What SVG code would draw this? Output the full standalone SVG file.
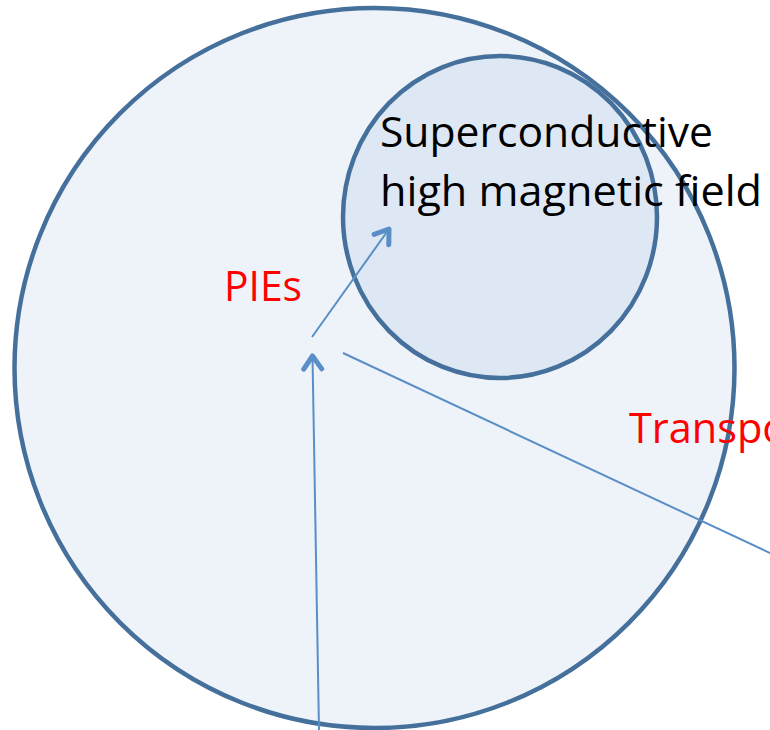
<svg xmlns="http://www.w3.org/2000/svg" width="770" height="730" viewBox="0 0 770 730">
<style>
.ring{stroke:#46709C;stroke-width:4.5;}
.conn{stroke:#5A8EC6;stroke-width:2;fill:none;}
.head{stroke:#5A8EC6;stroke-width:5;fill:none;stroke-linecap:round;stroke-linejoin:round;}
.lbl{font-family:"Open Sans","Noto Sans",sans-serif;font-size:42px;}
</style>
<defs>
<marker id="arr" viewBox="0 0 24 24" refX="20" refY="12" markerWidth="24" markerHeight="24" markerUnits="userSpaceOnUse" orient="auto">
<path d="M7,3 L20,12 L7,21" class="head"/>
</marker>
</defs>
<rect width="770" height="730" fill="#ffffff"/>
<g id="transport">
<circle cx="374.5" cy="368" r="360" fill="#EEF3FA"/>
</g>
<g id="superconductive">
<ellipse cx="500" cy="217" rx="157" ry="161" fill="#DEE8F4" class="ring"/>
</g>
<g id="transport-ring">
<circle cx="374.5" cy="368" r="360" fill="none" class="ring"/>
</g>
<g id="connectors">
<line x1="312" y1="337" x2="389" y2="229" class="conn" marker-end="url(#arr)"/>
<line x1="319" y1="730" x2="312.5" y2="356" class="conn" marker-end="url(#arr)"/>
<line x1="343" y1="353" x2="770" y2="553" class="conn"/>
</g>
<g id="labels">
<text class="lbl" x="380" y="147" fill="#000" textLength="333" lengthAdjust="spacingAndGlyphs">Superconductive</text>
<text class="lbl" x="380" y="206" fill="#000" textLength="382" lengthAdjust="spacingAndGlyphs">high magnetic field</text>
<text class="lbl" x="224" y="301" fill="#FF0000" textLength="78" lengthAdjust="spacingAndGlyphs">PIEs</text>
<text class="lbl" x="629" y="443" fill="#FF0000" textLength="190" lengthAdjust="spacingAndGlyphs">Transport</text>
</g>
</svg>
